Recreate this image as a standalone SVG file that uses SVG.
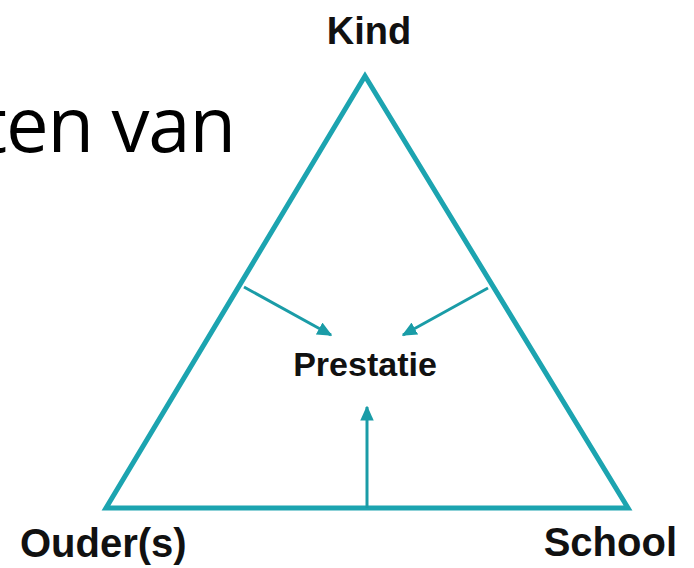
<svg xmlns="http://www.w3.org/2000/svg" width="694" height="568" viewBox="0 0 694 568">
<style>
.lbl{font-family:"Liberation Sans",Arial,sans-serif;font-weight:bold;fill:#111;}
.tri{fill:none;stroke:#1ca4b0;stroke-width:5;stroke-linejoin:miter;}
.arr{stroke:#1a9ca7;stroke-width:3;fill:none;}
.big{font-family:"Open Sans","Liberation Sans",sans-serif;fill:#000;}
</style>
<defs>
<marker id="ah" viewBox="0 0 10 10" refX="9" refY="5" markerWidth="5" markerHeight="4.5" orient="auto" markerUnits="strokeWidth" preserveAspectRatio="none">
<path d="M0,0 L10,5 L0,10 z" fill="#1a9ca7"/>
</marker>
</defs>
<rect width="694" height="568" fill="#fff"/>
<text class="big" x="-20" y="152" font-size="76" textLength="256" lengthAdjust="spacing">ten van</text>
<g id="triangle">
<polygon class="tri" points="365,76 106,508 628,508"/>
</g>
<g id="connectors">
<line class="arr" x1="244" y1="287" x2="331" y2="335" marker-end="url(#ah)"/>
<line class="arr" x1="488" y1="288" x2="403" y2="335" marker-end="url(#ah)"/>
<line class="arr" x1="367" y1="508" x2="367" y2="407" marker-end="url(#ah)"/>
</g>
<g id="kind"><text class="lbl" x="369" y="44" font-size="38" text-anchor="middle">Kind</text></g>
<g id="prestatie"><text class="lbl" x="365" y="376" font-size="34" text-anchor="middle">Prestatie</text></g>
<g id="ouders"><text class="lbl" x="20" y="557" font-size="40">Ouder(s)</text></g>
<g id="school"><text class="lbl" x="677" y="556" font-size="40" text-anchor="end">School</text></g>
</svg>
